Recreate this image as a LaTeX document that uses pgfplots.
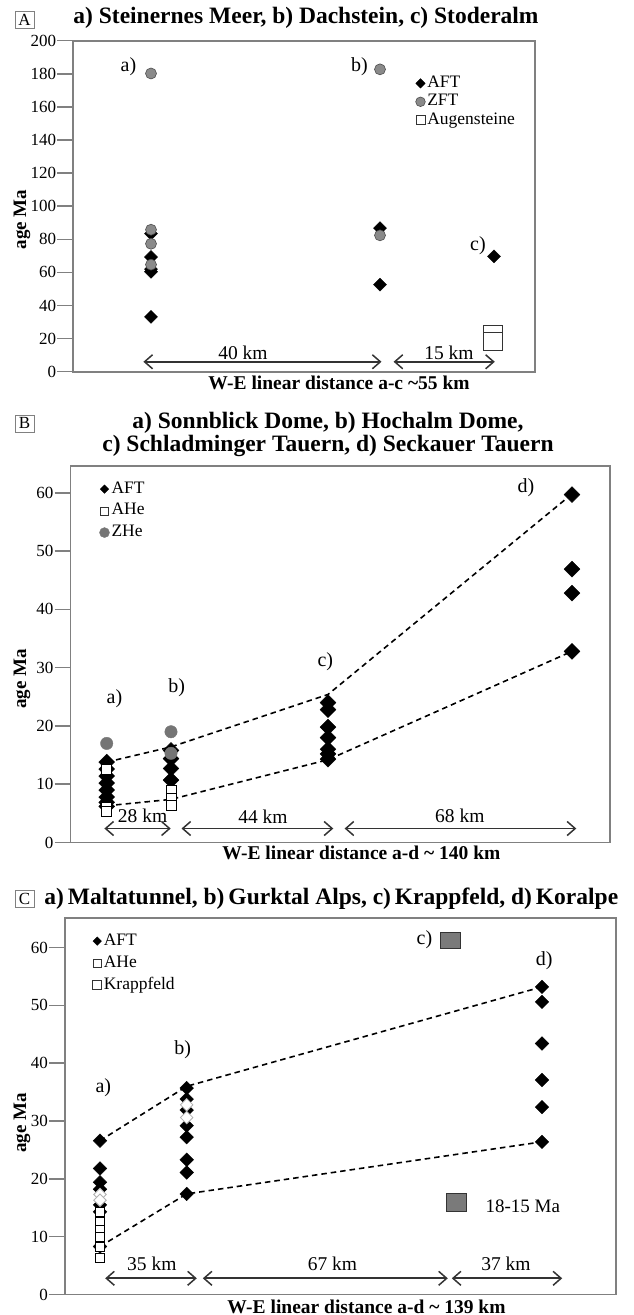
\documentclass[border=0pt]{standalone}
\usepackage{pgfplots}
\pgfplotsset{compat=1.18}
\usepackage{fontspec}
\setmainfont{Liberation Serif}
\usetikzlibrary{arrows.meta}
\newcommand\fs[1]{\fontsize{#1}{#1}\selectfont}
\definecolor{axgray}{HTML}{808080}
\definecolor{zgray}{HTML}{8A8A8A}
\definecolor{kgray}{HTML}{7A7A7A}
\tikzset{
  lab/.style={font=\fs{20}},
  kml/.style={font=\fs{19.5}},
}
\pgfplotsset{
  panel/.style={
    scale only axis, clip=false,
    axis line style={axgray, line width=1.8pt},
    ytick pos=left, xtick=\empty,
    tick align=outside, major tick length=16pt,
    major tick style={axgray, line width=1.5pt},
    yticklabel style={font=\fs{17}, inner sep=1pt},
    /pgf/number format/assume math mode=true,
    legend cell align=left,
    legend style={draw=none, fill=none, font=\fs{17.5}, anchor=west, inner sep=0pt,
      column sep=2pt, nodes={inner sep=0pt, text height=12pt, text depth=4pt}},
  },
  legimg/.style={only marks, legend image code/.code={\draw[##1] plot coordinates {(0pt,0pt)};}},
  afa/.style={only marks, mark=square*, mark options={rotate=45, fill=black, draw=black}, mark size=#1, forget plot},
  zft/.style={only marks, mark=*, mark options={fill=zgray, draw=black!70, line width=0.6pt}, mark size=5.5pt, forget plot},
  zhe/.style={only marks, mark=*, mark options={fill=zgray!85!black, draw=zgray!85!black}, mark size=6.2pt, forget plot},
  ahe/.style={only marks, mark=square*, mark options={fill=white, draw=black, line width=0.8pt}, mark size=#1, forget plot},
  hol/.style={only marks, mark=square*, mark options={rotate=45, fill=white, draw=gray!60, line width=0.8pt}, mark size=4.4pt, forget plot},
  arr/.style={black!80, line width=1.7pt, {Straight Barb[length=8pt,width=14pt,line width=1.5pt]}-{Straight Barb[length=8pt,width=14pt,line width=1.5pt]}, forget plot, no marks},
  dsh/.style={black, line width=1.6pt, dash pattern=on 5.5pt off 4pt, forget plot, no marks},
}
\begin{document}
\begin{tikzpicture}
\useasboundingbox (0pt,0pt) rectangle (634pt,-1315pt);
% ================= Panel A =================
\node[draw=axgray, line width=0.6pt, minimum width=19pt, minimum height=17pt, inner sep=0pt, font=\fs{17}] at (24.5pt,-20pt) {A};
\node[font=\fs{23.5}\bfseries] at (306pt,-18pt) {a) Steinernes Meer, b) Dachstein, c) Stoderalm};
\node[font=\fs{19.5}\bfseries] at (339pt,-383pt) {W-E linear distance a-c \textasciitilde55 km};
\node[font=\fs{19}\bfseries, rotate=90] at (22pt,-219.5pt) {age Ma};
\begin{axis}[panel, at={(73.3pt,-371.7pt)}, anchor=south west,
  width=461.7pt, height=331pt, xmin=73.3, xmax=535, ymin=0, ymax=200,
  ytick={0,20,...,200},
  legend style={at={(axis cs:415.5,163.1)}, row sep=2.4pt}]
\addlegendimage{legimg, mark=square*, mark options={rotate=45, fill=black}, mark size=3.3pt}
\addlegendentry{AFT}
\addlegendimage{legimg, mark=*, mark options={fill=zgray, draw=black!70, line width=0.6pt}, mark size=4.8pt}
\addlegendentry{ZFT}
\addlegendimage{legimg, mark=square, mark options={draw=black!80, line width=0.7pt}, mark size=4.6pt}
\addlegendentry{Augensteine}
\addplot[afa=4.6pt] coordinates {(151,83.4) (151,69.3) (151,62.0) (151,60.4) (151,33.1) (380,86.8) (380,52.6) (494,69.7)};
\addplot[zft] coordinates {(151,180.2) (151,85.8) (151,77.3) (151,64.7) (380,182.7) (380,82.4)};
\addplot[black!80, line width=0.8pt, forget plot] coordinates {(483,23.6) (502,23.6) (502,28.2) (483,28.2) (483,23.6)};
\addplot[black!80, line width=0.8pt, forget plot] coordinates {(483,13.1) (502,13.1) (502,23.6) (483,23.6) (483,13.1)};
\addplot[arr] coordinates {(143.4,6) (381.5,6)};
\addplot[arr] coordinates {(393.6,6) (494.8,6)};
\node[kml] at (axis cs:243,11.5) {40 km};
\node[kml] at (axis cs:449,11.5) {15 km};
\node[lab] at (axis cs:128.5,184.3) {a)};
\node[lab] at (axis cs:359.4,184.3) {b)};
\node[lab] at (axis cs:478,76.1) {c)};
\end{axis}
% ================= Panel B =================
\node[draw=axgray, line width=0.6pt, minimum width=19pt, minimum height=17pt, inner sep=0pt, font=\fs{17}] at (24.5pt,-423.3pt) {B};
\node[font=\fs{23.5}\bfseries, align=center] at (328pt,-434.2pt) {\fontsize{23.5}{25}\selectfont a) Sonnblick Dome, b) Hochalm Dome,\\ c) Schladminger Tauern, d) Seckauer Tauern};
\node[font=\fs{19.5}\bfseries] at (361.4pt,-853.3pt) {W-E linear distance a-d \textasciitilde{} 140 km};
\node[font=\fs{19}\bfseries, rotate=90] at (22pt,-679pt) {age Ma};
\begin{axis}[panel, at={(70.5pt,-842.5pt)}, anchor=south west,
  width=539.5pt, height=376.5pt, xmin=70.5, xmax=610, ymin=0, ymax=64.6,
  ytick={0,10,...,60},
  legend style={at={(axis cs:99.3,56.9)}, row sep=5.7pt}]
\addlegendimage{legimg, mark=square*, mark options={rotate=45, fill=black}, mark size=3pt}
\addlegendentry{AFT}
\addlegendimage{legimg, mark=square*, mark options={fill=white, draw=black!80, line width=0.7pt}, mark size=4pt}
\addlegendentry{AHe}
\addlegendimage{legimg, mark=*, mark options={fill=zgray!85!black, draw=zgray!85!black}, mark size=5pt}
\addlegendentry{ZHe}
\addplot[afa=5.6pt] coordinates {
 (106.7,13.8) (106.7,12.6) (106.7,11.4) (106.7,10.2) (106.7,9.0) (106.7,7.8) (106.7,6.9) (106.7,6.2)
 (171,15.8) (171,14.4) (171,12.7) (171,10.7)
 (328,24.0) (328,22.8) (328,19.8) (328,18.0) (328,16.0) (328,15.2) (328,14.3)
 (572,59.7) (572,46.9) (572,42.8) (572,32.8)};
\addplot[ahe=5pt] coordinates {(106.7,12.5) (106.7,6.1) (106.7,5.3) (171,9.0) (171,7.6) (171,6.3)};
\addplot[zhe] coordinates {(106.7,17.0) (171,19.0) (171,15.3)};
\addplot[dsh] coordinates {(106.7,13.8) (171,16.4) (328,25.4) (572,59.8)};
\addplot[dsh] coordinates {(106.7,6.3) (171,7.4) (328,14.2) (572,32.8)};
\addplot[arr] coordinates {(104.4,2.4) (170.7,2.4)};
\addplot[arr] coordinates {(181.5,2.4) (333.3,2.4)};
\addplot[arr] coordinates {(344.6,2.4) (576.3,2.4)};
\node[kml] at (axis cs:142.6,4.5) {28 km};
\node[kml] at (axis cs:263,4.5) {44 km};
\node[kml] at (axis cs:459.8,4.5) {68 km};
\node[lab] at (axis cs:114.5,24.6) {a)};
\node[lab] at (axis cs:176.7,26.6) {b)};
\node[lab] at (axis cs:325.3,31.0) {c)};
\node[lab] at (axis cs:526,60.9) {d)};
\end{axis}
% ================= Panel C =================
\node[draw=axgray, line width=0.6pt, minimum width=19pt, minimum height=17pt, inner sep=0pt, font=\fs{17}] at (24.5pt,-899.2pt) {C};
\node[font=\fs{23.5}\bfseries] at (331.3pt,-898.3pt) {a)\,Maltatunnel, b)\,Gurktal Alps, c)\,Krappfeld, d)\,Koralpe};
\node[font=\fs{19.5}\bfseries] at (366.5pt,-1306.7pt) {W-E linear distance a-d \textasciitilde{} 139 km};
\node[font=\fs{19}\bfseries, rotate=90] at (22pt,-1123pt) {age Ma};
\begin{axis}[panel, at={(65pt,-1294.5pt)}, anchor=south west,
  width=551pt, height=376.2pt, xmin=65, xmax=616, ymin=0, ymax=65.05,
  ytick={0,10,...,60},
  legend style={at={(axis cs:92.4,57.3)}, row sep=6pt}]
\addlegendimage{legimg, mark=square*, mark options={rotate=45, fill=black}, mark size=3pt}
\addlegendentry{AFT}
\addlegendimage{legimg, mark=square*, mark options={fill=white, draw=black!80, line width=0.7pt}, mark size=4pt}
\addlegendentry{AHe}
\addlegendimage{legimg, mark=square, mark options={draw=black!80, line width=0.7pt}, mark size=4.6pt}
\addlegendentry{Krappfeld}
\addplot[afa=4.8pt] coordinates {
 (100,26.6) (100,21.8) (100,19.4) (100,18.2) (100,15.5) (100,14.3) (100,8.3)
 (186.7,35.7) (186.7,33.8) (186.7,31.9) (186.7,29.2) (186.7,27.2) (186.7,23.3) (186.7,21.1) (186.7,17.4)
 (542,53.2) (542,50.6) (542,43.4) (542,37.1) (542,32.4) (542,26.4)};
\addplot[hol] coordinates {(100,17.3) (100,16.3) (186.7,32.8) (186.7,30.6)};
\addplot[ahe=4.5pt] coordinates {(100,14.2) (100,12.5) (100,11.2) (100,10.0) (100,8.3) (100,6.3)};
\addplot[only marks, mark=square*, mark options={fill=kgray, draw=black!80, line width=0.8pt, xscale=1.28}, mark size=7.8pt, forget plot] coordinates {(450.6,61.2)};
\addplot[only marks, mark=square*, mark options={fill=kgray, draw=black!80, line width=0.8pt, xscale=1.09}, mark size=9.2pt, forget plot] coordinates {(456.6,15.9)};
\addplot[dsh] coordinates {(100,26.6) (186.7,36.0) (542,53.2)};
\addplot[dsh] coordinates {(100,8.3) (186.7,17.4) (542,26.4)};
\addplot[arr] coordinates {(105.2,2.8) (196.8,2.8)};
\addplot[arr] coordinates {(202.8,2.8) (447.8,2.8)};
\addplot[arr] coordinates {(451.8,2.8) (562.2,2.8)};
\node[kml] at (axis cs:151.8,5.3) {35 km};
\node[kml] at (axis cs:332.5,5.3) {67 km};
\node[kml] at (axis cs:506,5.3) {37 km};
\node[lab] at (axis cs:103.3,35.7) {a)};
\node[lab] at (axis cs:182.7,42.3) {b)};
\node[lab] at (axis cs:424.5,61.3) {c)};
\node[lab] at (axis cs:544.2,57.8) {d)};
\node[font=\fs{19}, anchor=west] at (axis cs:482,15.2) {18-15 Ma};
\end{axis}
\end{tikzpicture}
\end{document}
